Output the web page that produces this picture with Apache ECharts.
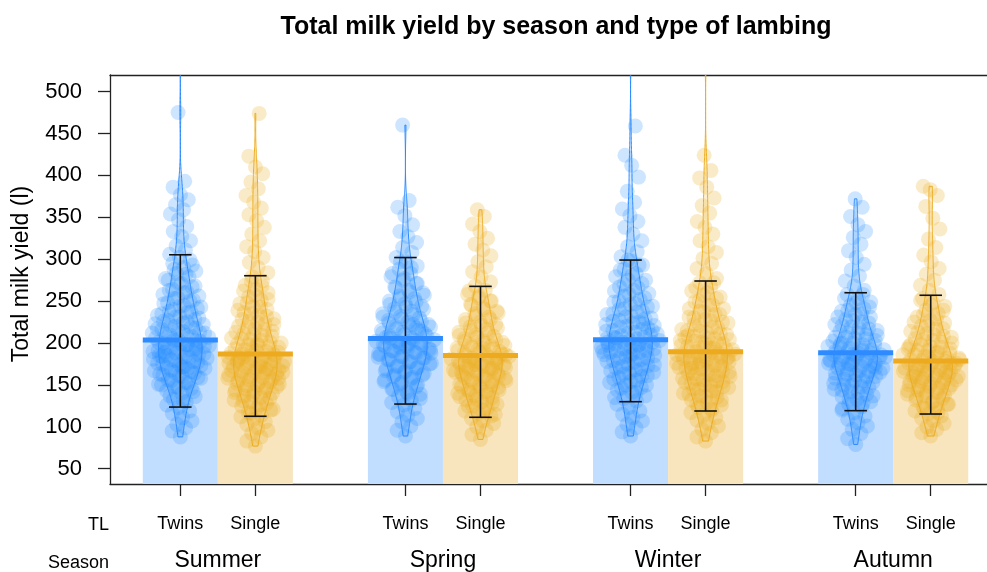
<!DOCTYPE html>
<html><head><meta charset="utf-8">
<script src="https://cdn.jsdelivr.net/npm/echarts@6/dist/echarts.min.js"></script>
<style>html,body{margin:0;padding:0;background:#fff}#c{width:987px;height:572px}</style>
</head><body><div id="c"></div>
<script>
const titleText = 'Total milk yield by season and type of lambing';
const yAxisTitle = 'Total milk yield (l)';
const seasons = ['Summer', 'Spring', 'Winter', 'Autumn'];
const lambingTypes = ['Twins', 'Single'];
const yTickLabels = [50, 100, 150, 200, 250, 300, 350, 400, 450, 500];
// per bean (Summer Twins, Summer Single, Spring Twins, ...)
const meanYield = [203.5, 186.9, 205.5, 185.0, 204.0, 189.7, 188.5, 178.6];
const lowerWhisker = [123.6, 112.6, 127.2, 111.4, 130.0, 118.9, 119.3, 115.3];
const upperWhisker = [305.3, 280.3, 302.0, 267.6, 299.0, 274.0, 260.0, 257.0];

const summerTwins = [88,95,99,103,107,111,116,119,123,126,130,133,136,140,143,146,148,151,153,156,159,161,163,166,168,170,172,175,177,179,181,183,185,187,189,191,193,195,197,198,200,202,204,206,208,210,212,214,216,218,220,223,225,227,230,232,235,237,240,243,245,248,251,254,258,261,264,268,271,275,279,283,286,290,295,299,302,306,311,316,322,327,333,339,347,354,359,365,371,377,386,393,475,560,
  131,137,142,147,150,152,155,158,160,162,164,165,167,169,171,173,174,176,178,180,182,183,184,186,188,190,192,194,196,199,201,203,205,207,209,211,213,215,217,219,221,222,224,226,228,231,233,236,238,241,244,247,250,253,256,260,263,267,272,277,282,288,293,171,185,194,203,212,198,189];
const summerSingle = [77,83,88,92,96,99,103,106,109,112,114,117,120,122,125,128,130,132,135,137,140,142,144,146,149,151,153,155,157,160,162,164,166,168,170,172,174,176,178,180,182,184,186,188,190,192,195,197,199,201,204,206,209,211,214,217,220,223,226,229,233,236,240,243,247,251,255,260,264,269,274,279,284,290,296,302,309,315,322,330,338,346,353,361,368,376,384,392,402,410,423,474,
  116,121,126,131,134,138,141,143,145,148,150,152,154,156,158,159,161,163,165,167,169,171,173,175,177,179,181,183,185,187,189,191,193,196,198,200,203,205,208,210,213,216,219,222,225,228,232,235,239,243,248,252,257,262,268,274,165,172,179,186,193,176,169,183,158,200];
const springTwins = [89,96,101,106,110,114,118,122,126,129,132,136,139,142,145,148,151,154,157,160,162,165,167,170,172,175,177,180,182,184,187,189,191,193,196,198,200,202,204,206,209,211,213,215,218,220,222,225,227,230,232,235,238,241,244,247,250,253,256,260,263,267,271,275,279,283,288,292,297,302,308,314,320,327,333,341,352,362,370,460,
  134,140,145,150,153,156,159,162,164,167,169,171,173,176,178,180,182,184,186,188,190,192,194,196,198,200,202,204,206,208,210,212,215,217,219,221,224,226,229,231,234,237,240,243,246,249,253,257,261,266,271,277,283,290,297,188,199,207,214,195,183,222];
const springSingle = [85,91,96,100,104,107,110,113,116,119,122,125,127,130,132,135,137,140,142,144,147,149,151,154,156,158,160,162,164,166,168,170,172,174,176,178,180,182,184,186,188,190,192,194,196,198,201,203,205,208,210,213,216,219,222,225,228,231,235,238,242,246,250,254,258,263,268,273,279,285,291,297,304,311,318,325,333,342,351,359,
  115,120,125,129,133,136,139,141,144,146,148,150,153,155,157,159,161,163,165,167,169,171,173,175,177,179,181,183,185,187,189,191,193,195,197,200,202,204,207,209,212,215,218,221,224,228,232,236,240,245,250,256,262,170,178,186,194,165,182,174];
const winterTwins = [89,94,99,103,107,111,115,119,123,127,131,134,137,141,144,147,150,153,156,159,161,164,167,169,172,174,177,179,182,184,186,189,191,193,195,197,199,201,203,205,207,210,212,214,216,219,221,224,226,229,231,234,237,240,243,246,249,252,256,259,263,267,271,275,279,283,288,293,298,303,309,315,322,330,338,345,352,360,368,381,398,412,424,459,545,
  135,141,146,150,154,157,160,163,165,168,170,173,175,178,180,182,185,187,189,191,193,195,197,199,201,203,205,207,209,211,213,215,218,220,222,225,227,230,232,235,238,241,244,247,250,254,258,262,266,270,275,281,287,293,299,190,198,206,215,185,201,223];
const winterSingle = [83,88,93,97,101,104,108,111,114,117,120,123,126,129,132,135,137,140,143,145,148,150,153,155,157,160,162,164,166,169,171,173,175,177,179,181,183,185,187,189,191,193,195,197,200,202,204,206,209,211,214,216,219,222,225,228,231,234,238,241,245,249,253,257,262,267,272,277,283,289,295,301,308,315,322,330,338,345,355,364,373,386,397,406,424,540,
  121,127,132,136,139,142,145,147,150,152,154,156,158,161,163,165,167,170,172,174,176,178,180,182,184,186,188,190,192,194,196,199,201,203,205,208,210,213,215,218,221,224,227,230,234,237,241,245,250,255,260,266,272,178,186,194,170,183,199,207];
const autumnTwins = [79,86,92,97,101,105,109,113,117,120,124,127,130,133,136,139,142,145,148,150,153,155,158,160,163,165,167,170,172,174,176,178,180,182,184,186,188,190,192,194,196,198,200,202,205,207,209,212,214,217,219,222,225,228,231,234,238,241,245,249,253,258,263,268,274,280,287,294,302,310,318,326,333,341,351,362,372,
  122,128,133,137,141,144,147,150,152,155,157,160,162,164,166,168,170,172,174,176,178,180,182,184,186,188,190,192,194,196,198,200,203,205,207,210,212,215,218,221,224,227,231,235,239,243,248,253,258,175,183,191,199,170,187,179];
const autumnSingle = [89,93,97,100,104,107,110,113,116,119,122,124,127,129,132,134,137,139,141,144,146,148,150,152,154,156,158,160,162,164,166,168,170,172,174,176,178,180,182,184,186,188,191,193,195,198,200,203,205,208,211,214,217,220,224,227,231,235,239,244,248,253,258,263,269,275,282,289,297,305,314,324,336,349,363,376,383,387,
  117,122,127,131,135,138,141,143,146,148,150,152,154,156,158,160,162,164,166,168,170,172,174,176,178,180,182,184,186,189,191,193,196,198,201,204,207,210,213,217,221,225,229,234,239,245,251,165,172,180,188,160,176,184,196];

const beansData = [summerTwins, summerSingle, springTwins, springSingle, winterTwins, winterSingle, autumnTwins, autumnSingle];
const slot = [1, 2, 4, 5, 7, 8, 10, 11];
const seasonSlot = [1.5, 4.5, 7.5, 10.5];
const Y_MIN = 31.8, Y_MAX = 519.8, X_MIN = 0.063, X_MAX = 11.75;
const HALF = 0.29;
const FONT = 'Liberation Sans, Arial, sans-serif';
const COL = [
  {solid: '#2A89FF', pt: 'rgba(30,140,255,0.28)', bar: '#C1DDFF', line: '#2E8BFF', fill: 'rgba(30,140,255,0.18)'},
  {solid: '#ECAB1E', pt: 'rgba(236,172,30,0.30)', bar: '#F8E5BD', line: '#EDAA1F', fill: 'rgba(236,172,30,0.18)'}
];

function bean(vals) {
  const n = vals.length;
  const m = vals.reduce((a, b) => a + b, 0) / n;
  const sd = Math.sqrt(vals.reduce((a, b) => a + (b - m) * (b - m), 0) / (n - 1));
  const h = 0.9 * sd * Math.pow(n, -0.2) * 0.75;
  const lo = Math.min(...vals), hi = Math.max(...vals);
  const dens = y => { let d = 0; for (const v of vals) d += Math.exp(-0.5 * ((y - v) / h) ** 2); return d; };
  const steps = 300, prof = [];
  for (let k = 0; k <= steps; k++) { const y = lo + (hi - lo) * k / steps; prof.push([y, dens(y)]); }
  const dmax = Math.max(...prof.map(p => p[1]));
  return {prof: prof.map(p => [p[0], p[1] / dmax]), rel: y => dens(y) / dmax};
}
const beans = beansData.map(bean);

const pts = [[], []];
beansData.forEach((vals, gi) => {
  const b = beans[gi];
  vals.forEach((v, i) => {
    const u = ((0.5 + i * 0.6180339887) % 1) * 2 - 1;
    const off = u * (0.1 + 0.3 * b.rel(v));
    pts[gi % 2].push([slot[gi] + off, v]);
  });
});

const beanItems = slot.map((x, gi) => [x, gi]);
const axisLineStyle = {color: '#222', width: 1.3};
const chart = echarts.init(document.getElementById('c'), null, {renderer: 'canvas'});
chart.setOption({
  animation: false,
  graphic: [
    {type: 'text', x: 556, y: 27, style: {text: titleText, font: 'bold 25px ' + FONT, fill: '#000', textAlign: 'center', textVerticalAlign: 'middle'}},
    {type: 'text', x: 22, y: 274, rotation: Math.PI / 2, style: {text: yAxisTitle, font: '23px ' + FONT, fill: '#000', textAlign: 'center', textVerticalAlign: 'middle'}},
    {type: 'text', x: 109, y: 525, style: {text: 'TL', font: '18px ' + FONT, fill: '#000', textAlign: 'right', textVerticalAlign: 'middle'}},
    {type: 'text', x: 109, y: 563, style: {text: 'Season', font: '18px ' + FONT, fill: '#000', textAlign: 'right', textVerticalAlign: 'middle'}}
  ],
  grid: {left: 110, top: 75, right: 0, height: 411, show: false},
  xAxis: [{
    type: 'value', min: X_MIN, max: X_MAX, splitLine: {show: false},
    axisLine: {show: true, onZero: false, lineStyle: axisLineStyle},
    axisTick: {show: true, customValues: slot, length: 12, lineStyle: axisLineStyle},
    axisLabel: {customValues: slot, margin: 31, fontSize: 18, fontFamily: FONT, color: '#000',
      formatter: v => lambingTypes[slot.indexOf(Math.round(v)) % 2]}
  }, {
    type: 'value', min: X_MIN, max: X_MAX, position: 'bottom', splitLine: {show: false},
    axisLine: {show: false}, axisTick: {show: false},
    axisLabel: {customValues: seasonSlot, margin: 65, fontSize: 23, fontFamily: FONT, color: '#000',
      formatter: v => seasons[seasonSlot.indexOf(v)]}
  }, {
    type: 'value', min: X_MIN, max: X_MAX, position: 'top', splitLine: {show: false},
    axisLine: {show: true, onZero: false, lineStyle: axisLineStyle}, axisTick: {show: false}, axisLabel: {show: false}
  }],
  yAxis: {
    type: 'value', min: Y_MIN, max: Y_MAX, splitLine: {show: false},
    axisLine: {show: true, onZero: false, lineStyle: axisLineStyle},
    axisTick: {show: true, customValues: yTickLabels, length: 12, lineStyle: axisLineStyle},
    axisLabel: {customValues: yTickLabels, margin: 28, fontSize: 22, fontFamily: FONT, color: '#000'}
  },
  series: [
    {type: 'custom', clip: true, silent: true, z: 1, data: beanItems.map((d, gi) => [d[0], meanYield[gi], gi]),
      renderItem: (params, api) => {
        const x = api.value(0), m = api.value(1), gi = api.value(2);
        const p0 = api.coord([x - 0.5, Y_MIN]), p1 = api.coord([x + 0.5, m]);
        return {type: 'rect', shape: {x: p0[0], y: p1[1], width: p1[0] - p0[0], height: p0[1] - p1[1]}, style: {fill: COL[gi % 2].bar}};
      }},
    {type: 'scatter', z: 2, silent: true, clip: true, symbolSize: 15, data: pts[0], itemStyle: {color: COL[0].pt}},
    {type: 'scatter', z: 2, silent: true, clip: true, symbolSize: 15, data: pts[1], itemStyle: {color: COL[1].pt}},
    {type: 'custom', clip: true, silent: true, z: 3, data: beanItems,
      renderItem: (params, api) => {
        const x = api.value(0), gi = api.value(1), prof = beans[gi].prof;
        const right = prof.map(p => api.coord([x + HALF * p[1], p[0]]));
        const left = prof.slice().reverse().map(p => api.coord([x - HALF * p[1], p[0]]));
        return {type: 'polygon', shape: {points: right.concat(left)}, style: {fill: COL[gi % 2].fill, stroke: COL[gi % 2].solid, lineWidth: 1}};
      }},
    {type: 'custom', clip: true, silent: true, z: 4, data: beanItems.map((d, gi) => [d[0], lowerWhisker[gi], upperWhisker[gi]]),
      renderItem: (params, api) => {
        const x = api.value(0), lo = api.value(1), hi = api.value(2);
        const a = api.coord([x, lo]), b = api.coord([x, hi]);
        const cl = api.coord([x - 0.15, lo]), cr = api.coord([x + 0.15, lo]);
        const ul = api.coord([x - 0.15, hi]), ur = api.coord([x + 0.15, hi]);
        const st = {stroke: '#111', lineWidth: 1.6};
        return {type: 'group', children: [
          {type: 'line', shape: {x1: a[0], y1: a[1], x2: b[0], y2: b[1]}, style: st},
          {type: 'line', shape: {x1: cl[0], y1: cl[1], x2: cr[0], y2: cr[1]}, style: st},
          {type: 'line', shape: {x1: ul[0], y1: ul[1], x2: ur[0], y2: ur[1]}, style: st}
        ]};
      }},
    {type: 'custom', clip: true, silent: true, z: 5, data: beanItems.map((d, gi) => [d[0], meanYield[gi], gi]),
      renderItem: (params, api) => {
        const x = api.value(0), m = api.value(1), gi = api.value(2);
        const l = api.coord([x - 0.5, m]), r = api.coord([x + 0.5, m]);
        return {type: 'line', shape: {x1: l[0], y1: l[1], x2: r[0], y2: r[1]}, style: {stroke: COL[gi % 2].line, lineWidth: 5}};
      }}
  ]
});
</script></body></html>
